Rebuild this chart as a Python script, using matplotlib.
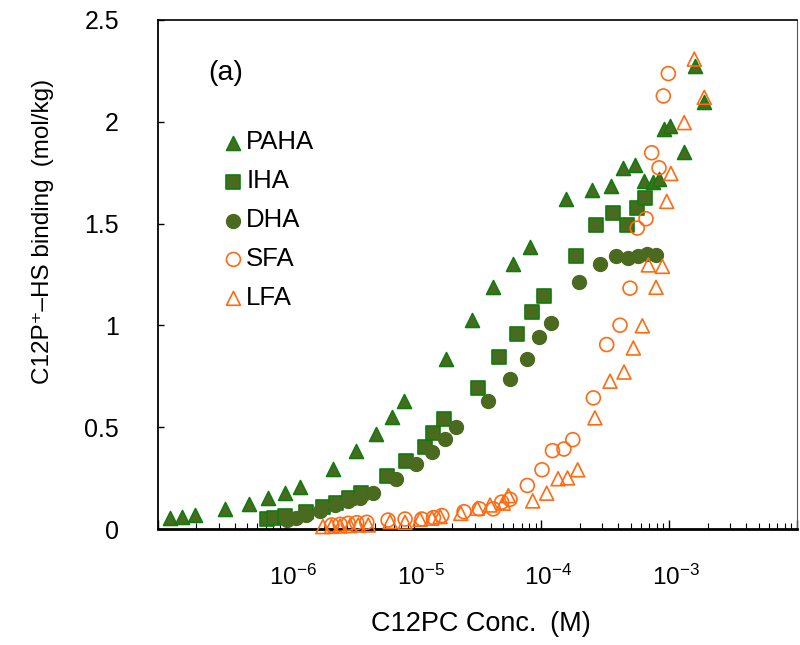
import numpy as np
import matplotlib
matplotlib.use("Agg")
import matplotlib.pyplot as plt
from matplotlib.ticker import LogLocator, FixedLocator, FuncFormatter, NullFormatter
import matplotlib.transforms as mtransforms

plt.rcParams['font.family'] = ['Liberation Sans', 'DejaVu Sans']
plt.rcParams['mathtext.fontset'] = 'custom'
plt.rcParams['mathtext.rm'] = 'Liberation Sans'
plt.rcParams['mathtext.it'] = 'Liberation Sans'
plt.rcParams['mathtext.bf'] = 'Liberation Sans'

# ---- data (C12PC concentration in M, binding in mol/kg) ----
paha_x = [1.24e-7, 1.53e-7, 1.95e-7, 3.34e-7, 5.18e-7, 7.21e-7, 9.9e-7, 1.29e-6, 2.33e-6, 3.54e-6,
          5.08e-6, 6.78e-6, 8.46e-6, 1.78e-5, 2.85e-5, 4.21e-5, 6.03e-5, 8.14e-5, 1.56e-4, 2.50e-4,
          3.48e-4, 4.38e-4, 5.40e-4, 6.38e-4, 7.43e-4, 8.37e-4, 9.1e-4, 1.01e-3, 1.31e-3, 1.58e-3, 1.88e-3]
paha_y = [0.053, 0.061, 0.069, 0.097, 0.123, 0.151, 0.176, 0.206, 0.294, 0.381,
          0.468, 0.549, 0.628, 0.837, 1.026, 1.187, 1.302, 1.387, 1.619, 1.663,
          1.683, 1.774, 1.786, 1.708, 1.705, 1.721, 1.964, 1.981, 1.853, 2.272, 2.096]

iha_x = [7.10e-7, 8.09e-7, 9.86e-7, 1.44e-6, 1.94e-6, 2.47e-6, 3.14e-6, 3.86e-6, 6.16e-6, 8.73e-6,
         1.23e-5, 1.43e-5, 1.74e-5, 3.19e-5, 4.66e-5, 6.47e-5, 8.39e-5, 1.05e-4, 1.85e-4, 2.67e-4,
         3.61e-4, 4.65e-4, 5.57e-4, 6.47e-4]
iha_y = [0.048, 0.056, 0.064, 0.085, 0.107, 0.130, 0.151, 0.176, 0.258, 0.335,
         0.401, 0.473, 0.541, 0.694, 0.845, 0.957, 1.064, 1.145, 1.343, 1.491,
         1.553, 1.492, 1.578, 1.626]

dha_x = [1.02e-6, 1.20e-6, 1.44e-6, 1.85e-6, 2.43e-6, 3.07e-6, 3.81e-6, 4.77e-6, 7.34e-6, 1.04e-5,
         1.39e-5, 1.76e-5, 2.15e-5, 3.84e-5, 5.68e-5, 7.67e-5, 9.63e-5, 1.19e-4, 1.97e-4, 2.87e-4,
         3.81e-4, 4.79e-4, 5.73e-4, 6.74e-4, 7.84e-4]
dha_y = [0.044, 0.052, 0.067, 0.089, 0.116, 0.136, 0.153, 0.176, 0.244, 0.319,
         0.378, 0.442, 0.500, 0.628, 0.738, 0.837, 0.945, 1.011, 1.215, 1.302,
         1.340, 1.330, 1.343, 1.351, 1.348]

sfa_x = [2.29e-6, 2.66e-6, 3.08e-6, 3.59e-6, 4.30e-6, 6.31e-6, 8.57e-6, 1.16e-5, 1.43e-5, 1.66e-5,
         2.48e-5, 3.27e-5, 4.20e-5, 4.89e-5, 5.68e-5, 7.76e-5, 1.01e-4, 1.22e-4, 1.50e-4, 1.76e-4,
         2.55e-4, 3.24e-4, 4.12e-4, 4.93e-4, 5.62e-4, 6.58e-4, 7.29e-4, 8.32e-4, 8.99e-4, 9.84e-4]
sfa_y = [0.020, 0.023, 0.028, 0.031, 0.033, 0.044, 0.049, 0.049, 0.056, 0.066,
         0.085, 0.099, 0.099, 0.132, 0.146, 0.214, 0.291, 0.385, 0.393, 0.439,
         0.644, 0.906, 1.001, 1.183, 1.478, 1.524, 1.848, 1.774, 2.127, 2.237]

lfa_x = [1.95e-6, 2.28e-6, 2.66e-6, 3.18e-6, 3.69e-6, 4.42e-6, 6.54e-6, 8.57e-6, 1.12e-5, 1.39e-5,
         1.61e-5, 2.34e-5, 3.15e-5, 3.96e-5, 5.03e-5, 5.51e-5, 8.55e-5, 1.10e-4, 1.35e-4, 1.60e-4,
         1.92e-4, 2.62e-4, 3.44e-4, 4.43e-4, 5.24e-4, 6.16e-4, 6.86e-4, 7.88e-4, 8.84e-4, 9.56e-4,
         1.03e-3, 1.31e-3, 1.57e-3, 1.88e-3]
lfa_y = [0.012, 0.013, 0.015, 0.017, 0.020, 0.020, 0.036, 0.033, 0.048, 0.053,
         0.061, 0.077, 0.102, 0.118, 0.127, 0.164, 0.138, 0.176, 0.247, 0.251,
         0.291, 0.546, 0.726, 0.771, 0.889, 0.998, 1.297, 1.187, 1.290, 1.609,
         1.746, 1.996, 2.308, 2.120]

series_labels = ['PAHA', 'IHA', 'DHA', 'SFA', 'LFA']
x_tick_values = [1e-7, 1e-6, 1e-5, 1e-4, 1e-3, 1e-2]
x_tick_labels = ['', r'$10^{-6}$', r'$10^{-5}$', r'$10^{-4}$', r'$10^{-3}$', '']
y_tick_values = [0, 0.5, 1, 1.5, 2, 2.5]

# ---- styles ----
olive = '#4A6A1F'
green_edge = '#0E7D0E'
orange = '#FF6A13'
ms = 100

fig = plt.figure(figsize=(8.0, 6.45), dpi=100)
ax = fig.add_axes([0.1975, 0.1798, 0.7988, 0.7892])

common = dict(s=ms, clip_on=False)
ax.scatter(paha_x, paha_y, marker='^', facecolor=olive, edgecolor=green_edge, linewidth=1.2,
           label=series_labels[0], zorder=3, **common)
ax.scatter(iha_x, iha_y, marker='s', facecolor=olive, edgecolor=green_edge, linewidth=1.2,
           label=series_labels[1], zorder=3, **common)
ax.scatter(dha_x, dha_y, marker='o', facecolor=olive, edgecolor=olive, linewidth=1.0,
           label=series_labels[2], zorder=3, **common)
ax.scatter(sfa_x, sfa_y, marker='o', facecolor='none', edgecolor=orange, linewidth=1.2,
           label=series_labels[3], zorder=4, **common)
ax.scatter(lfa_x, lfa_y, marker='^', facecolor='none', edgecolor=orange, linewidth=1.2,
           label=series_labels[4], zorder=4, **common)

ax.set_xscale('log')
ax.set_xlim(1e-7, 1e-2)
ax.set_ylim(0, 2.5)

ax.xaxis.set_major_locator(FixedLocator(x_tick_values))
ax.set_xticklabels(x_tick_labels)
ax.xaxis.set_minor_locator(LogLocator(base=10, subs=np.arange(2, 10), numticks=20))
ax.xaxis.set_minor_formatter(NullFormatter())
ax.set_yticks(y_tick_values)
ax.yaxis.set_major_formatter(FuncFormatter(lambda v, p: '%g' % v))

ax.tick_params(axis='x', which='major', direction='in', length=6.5, width=1.0, pad=25.5,
               labelsize=17.5, top=False)
ax.tick_params(axis='x', which='minor', direction='in', length=4, width=0.8, top=False)
ax.tick_params(axis='y', which='major', direction='in', length=4.5, width=1.0, pad=28,
               labelsize=18, right=False)

offset = mtransforms.ScaledTranslation(7 / 100, 0, fig.dpi_scale_trans)
for lab in ax.get_xticklabels():
    lab.set_transform(lab.get_transform() + offset)

ax.spines['bottom'].set_linewidth(2.0)
ax.spines['left'].set_linewidth(1.3)
ax.spines['top'].set_linewidth(1.2)
ax.spines['right'].set_linewidth(0.8)
ax.spines['right'].set_color('#555555')

ax.set_xlabel('C12PC Conc.\u2002(M)', fontsize=19.5)
ax.xaxis.set_label_coords(0.505, -0.161)
ax.set_ylabel('C12P\u207a\u2013HS binding\u2002(mol/kg)', fontsize=17.5)
ax.yaxis.set_label_coords(-0.163, 0.585)

ax.text(0.078, 0.896, '(a)', transform=ax.transAxes, fontsize=20.5, ha='left', va='center')

leg = ax.legend(loc='upper left', bbox_to_anchor=(0.106, 0.783), frameon=False, fontsize=18.5,
                handlelength=0.6, handletextpad=0.2, labelspacing=0.58, borderpad=0,
                borderaxespad=0, scatterpoints=1)

fig.savefig('out.png', dpi=100)
